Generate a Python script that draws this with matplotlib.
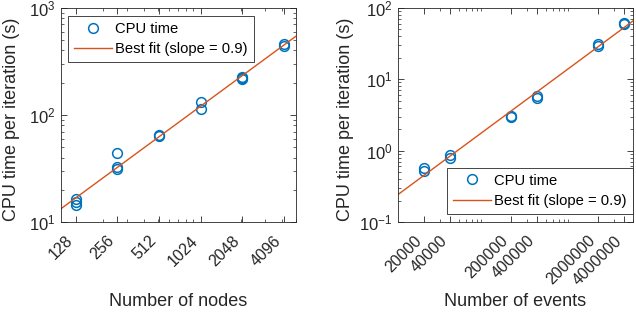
import matplotlib
matplotlib.use("Agg")
import matplotlib.pyplot as plt
import matplotlib.transforms as mtransforms
import numpy as np
from matplotlib.ticker import FixedLocator, LogLocator, NullFormatter

# nodes experiment
nodes = [128, 128, 128, 256, 256, 256, 512, 512, 1024, 1024, 2048, 2048, 2048, 4096, 4096]
nodes_time = [14.5, 15.5, 16.5, 44, 31.5, 32.5, 64, 65.5, 132, 114, 215, 222, 228, 440, 462]
nodes_ticks = [128, 256, 512, 1024, 2048, 4096]

# events experiment
events = [20000, 20000, 40000, 40000, 200000, 200000, 400000, 400000, 2000000, 2000000, 4000000, 4000000]
events_time = [0.52, 0.57, 0.80, 0.86, 2.95, 3.1, 5.5, 5.9, 29.5, 31, 59, 62]
events_ticks = [20000, 40000, 200000, 400000, 2000000, 4000000]

blue = "#0072BD"
orange = "#D95319"
grey = "#262626"

plt.rcParams["font.family"] = ["Liberation Sans", "DejaVu Sans"]
plt.rcParams["mathtext.fontset"] = "custom"
plt.rcParams["mathtext.rm"] = "Liberation Sans"
plt.rcParams["font.size"] = 11

fig = plt.figure(figsize=(6.36, 3.14), dpi=100)
ax1 = fig.add_axes([0.096, 0.293, 0.369, 0.682])
ax2 = fig.add_axes([0.626, 0.293, 0.369, 0.682])


def panel(ax, x, y, ticks, xlim, ylim, xlabel, leg_loc, leg_anchor, ylab_x):
    x = np.array(x, dtype=float)
    y = np.array(y, dtype=float)
    slope, icpt = np.polyfit(np.log10(x), np.log10(y), 1)
    xf = np.logspace(np.log10(xlim[0]), np.log10(xlim[1]), 50)
    ax.plot(x, y, "o", mfc="none", mec=blue, ms=7, mew=1.1, label="CPU time")
    ax.plot(xf, 10 ** icpt * xf ** slope, color=orange, lw=1.0,
            label="Best fit (slope = %.1f)" % slope)
    ax.set_xscale("log")
    ax.set_yscale("log")
    ax.set_xlim(xlim)
    ax.set_ylim(ylim)
    ax.xaxis.set_major_locator(FixedLocator(ticks))
    ax.set_xticklabels([str(t) for t in ticks], rotation=45, ha="right", va="top")
    shift = mtransforms.ScaledTranslation(0.11, 0, fig.dpi_scale_trans)
    for lab in ax.get_xticklabels():
        lab.set_transform(lab.get_transform() + shift)
    ax.xaxis.set_minor_locator(LogLocator(base=10, subs=np.arange(2, 10)))
    ax.xaxis.set_minor_formatter(NullFormatter())
    ax.tick_params(which="both", direction="in", top=True, right=True,
                   colors=grey, labelcolor=grey)
    ax.tick_params(axis="x", which="major", pad=8, labelsize=11.5)
    ax.tick_params(axis="y", which="major", pad=4, labelsize=12)
    ax.tick_params(which="major", length=4, width=0.6)
    ax.tick_params(which="minor", length=2.5, width=0.5)
    for s in ax.spines.values():
        s.set_color(grey)
        s.set_linewidth(0.6)
    ax.set_xlabel(xlabel, color=grey, fontsize=13)
    ax.xaxis.set_label_coords(0.5, -0.33)
    ax.set_ylabel("CPU time per iteration (s)", color=grey, fontsize=13)
    ax.yaxis.set_label_coords(ylab_x, 0.48)
    leg = ax.legend(loc=leg_loc, bbox_to_anchor=leg_anchor, fancybox=False,
                    framealpha=1, edgecolor=grey, fontsize=10.6, borderaxespad=0,
                    handlelength=2.6, borderpad=0.4, labelspacing=0.45,
                    handletextpad=0.2)
    leg.get_frame().set_linewidth(0.6)
    for t in leg.get_texts():
        t.set_color("black")


panel(ax1, nodes, nodes_time, nodes_ticks, (100, 5000), (10, 1000),
      "Number of nodes", "upper left", (0.03, 0.963), -0.174)
panel(ax2, events, events_time, events_ticks, (1e4, 5e6), (0.1, 100),
      "Number of events", "lower right", (1.0, 0.037), -0.19)

fig.savefig("out.png", dpi=100)
